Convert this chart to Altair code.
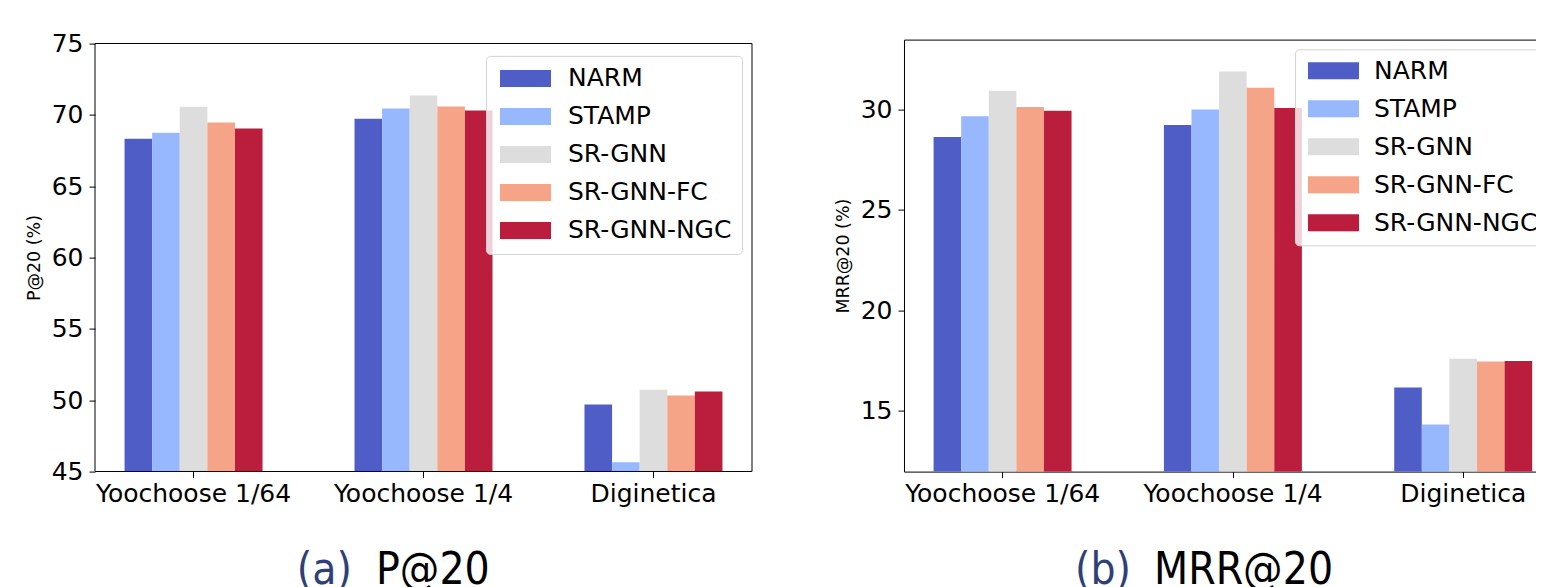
import altair as alt
import pandas as pd

models = ["NARM", "STAMP", "SR-GNN", "SR-GNN-FC", "SR-GNN-NGC"]
datasets = ["Yoochoose 1/64", "Yoochoose 1/4", "Diginetica"]
colors = ["#4f5ec6", "#98b8fe", "#dedddd", "#f5a488", "#bb1d3c"]

p20_narm = [68.32, 69.73, 49.70]
p20_stamp = [68.74, 70.44, 45.64]
p20_srgnn = [70.57, 71.36, 50.73]
p20_fc = [69.46, 70.58, 50.33]
p20_ngc = [69.04, 70.30, 50.61]

mrr_narm = [28.63, 29.23, 16.17]
mrr_stamp = [29.67, 30.00, 14.32]
mrr_srgnn = [30.94, 31.89, 17.59]
mrr_fc = [30.13, 31.08, 17.46]
mrr_ngc = [29.94, 30.08, 17.49]

p20 = [p20_narm, p20_stamp, p20_srgnn, p20_fc, p20_ngc]
mrr = [mrr_narm, mrr_stamp, mrr_srgnn, mrr_fc, mrr_ngc]

rows = []
for mi, m in enumerate(models):
    for di, d in enumerate(datasets):
        rows.append({"model": m, "dataset": d, "p20": p20[mi][di], "mrr20": mrr[mi][di]})
df = pd.DataFrame(rows)

FONT = "DejaVu Sans"
CAP_FONT = "DejaVu Sans Condensed, Liberation Sans Narrow, sans-serif"
one = pd.DataFrame({"k": [0]})


def panel(field, title, domain, ticks, width, height, yrange, lx, ly, lpad, loff,
          cap_a, cap_b, ax, bx, cy, frame):
    xscale = alt.Scale(paddingInner=0.4, paddingOuter=0.1285)
    bars = alt.Chart(df).mark_bar(clip=True).encode(
        x=alt.X("dataset:N", sort=datasets, scale=xscale,
                axis=alt.Axis(title=None, labelAngle=0, labelOverlap=False,
                              labelLimit=400, domain=False)),
        xOffset=alt.XOffset("model:N", sort=models,
                            scale=alt.Scale(paddingInner=0, paddingOuter=0)),
        y=alt.Y(f"{field}:Q",
                scale=alt.Scale(domain=domain, nice=False, zero=False, range=yrange),
                axis=alt.Axis(values=ticks, title=title, domain=False)),
        color=alt.Color("model:N", sort=models,
                        scale=alt.Scale(domain=models, range=colors),
                        legend=alt.Legend(
                            title=None, orient="none", legendX=lx, legendY=ly,
                            symbolType="M-1,-1H5V1H-1Z", symbolSize=289,
                            symbolStrokeWidth=0, symbolOpacity=1,
                            labelFont=FONT, labelFontSize=25, labelColor="black",
                            labelOffset=loff, rowPadding=12, padding=lpad,
                            labelLimit=400,
                            fillColor="rgba(255,255,255,0.8)", strokeColor="#d4d4d4",
                            cornerRadius=4)),
    )
    ta = alt.Chart(one).mark_text(text=cap_a, align="right", baseline="alphabetic",
                                  font=CAP_FONT, fontSize=44, color="#2f3f78").encode(
        x=alt.value(ax), y=alt.value(cy))
    tb = alt.Chart(one).mark_text(text=cap_b, align="left", baseline="alphabetic",
                                  font=CAP_FONT, fontSize=44, color="black").encode(
        x=alt.value(bx), y=alt.value(cy))
    layers = [bars, ta, tb]
    props = dict(width=width, height=height)
    if frame:
        fr = alt.Chart(one).mark_rect(fill="transparent", stroke="black", strokeWidth=1).encode(
            x=alt.value(0), x2=alt.value(width),
            y=alt.value(yrange[1]), y2=alt.value(yrange[0]))
        layers.append(fr)
        props["view"] = alt.ViewBackground(stroke="transparent")
    return alt.layer(*layers).properties(**props)


left = panel("p20", "P@20 (%)", [45, 75], [45, 50, 55, 60, 65, 70, 75], 657, 431.9,
             [431.9, 3.9], 391, 16.3, 10, 47, "(a)", "P@20", 257, 281, 544.3, True)
right = panel("mrr20", "MRR@20 (%)", [11.98, 33.48], [15, 20, 25, 30], 658, 432,
              [432, 0], 391, 9.7, 9, 45, "(b)", "MRR@20", 227, 250, 544.3, False)

chart = alt.hconcat(left, right, spacing=152, bounds="flush").resolve_scale(
    color="independent"
).properties(
    padding={"left": 16, "top": 22.6, "right": -27, "bottom": 0}
).configure_view(
    stroke="black", strokeWidth=1
).configure_axis(
    domainColor="black", tickColor="black", labelColor="black",
    labelFont=FONT, labelFontSize=25, titleFont=FONT, titleFontSize=17.5,
    titleFontWeight="normal", titleColor="black", grid=False, tickSize=6
).configure_axisX(
    labelPadding=4
).configure_axisY(
    labelPadding=6, titlePadding=8
)

chart.save("out.html", embed_options={"renderer": "svg", "actions": False})
